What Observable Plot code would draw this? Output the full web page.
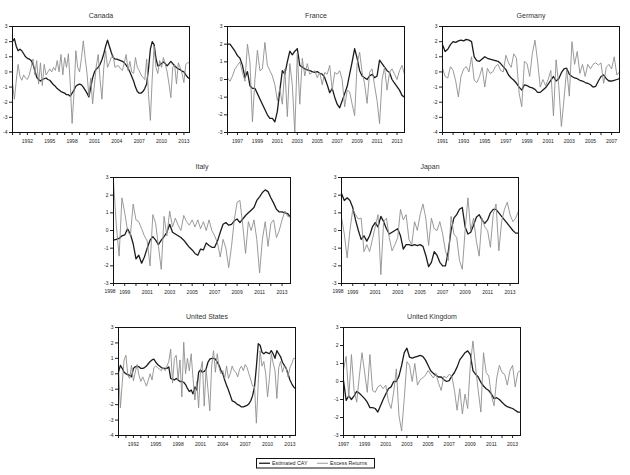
<!DOCTYPE html>
<html>
<head>
<meta charset="utf-8">
<script src="https://cdn.jsdelivr.net/npm/d3@7"></script>
<script src="https://cdn.jsdelivr.net/npm/@observablehq/plot@0.6"></script>
<style>
  body { margin: 0; background: #fff; }
  #chart { position: relative; width: 630px; height: 475px; background: #fff;
           font-family: "Liberation Sans", Arial, sans-serif; }
  #chart svg { position: absolute; overflow: visible; }
</style>
</head>
<body>
<div id="chart"></div>
<script>
// Series names (legend)
const seriesNames = ["Estimated CAY", "Excess Returns"];

// Quarterly observations, first quarter of each sample
const canadaStart = 1990;
const canadaCay = [2.0,2.2,1.7,1.4,1.5,1.4,1.2,1.0,0.9,0.85,
  0.75,0.5,0.1,-0.35,-0.5,-0.6,-0.5,-0.45,-0.4,-0.5,
  -0.55,-0.7,-0.85,-0.95,-1.1,-1.2,-1.3,-1.35,-1.4,-1.5,
  -1.5,-1.6,-1.4,-1.2,-0.95,-0.85,-0.8,-0.85,-1.0,-1.2,
  -1.4,-1.65,-1.0,-0.4,0.0,0.2,0.3,0.5,0.8,1.2,
  1.7,2.1,1.7,1.3,0.95,0.85,0.85,0.8,0.75,0.7,
  0.6,0.45,0.25,0.0,-0.3,-0.6,-1.0,-1.3,-1.4,-1.4,
  -1.3,-1.1,-0.8,0.2,1.5,2.0,1.8,0.9,0.4,0.45,
  0.55,0.65,0.55,0.4,0.55,0.7,0.55,0.4,0.3,0.2,
  0.15,0.05,0.0,-0.2,-0.35,-0.45];
const canadaRet = [-0.7,-1.8,-0.6,0.5,-0.3,-0.55,-0.2,-0.4,-0.5,-0.2,
  0.3,0.85,-0.2,0.75,-0.8,0.6,-0.9,0.5,-0.2,0.0,
  0.2,0.0,0.3,0.1,0.75,0.0,1.15,-0.2,0.95,0.3,
  1.2,-0.8,-3.4,-1.4,1.4,0.3,0.0,0.9,2.05,0.9,
  -0.1,-1.6,-0.4,-2.1,-0.8,0.4,1.15,-0.5,-1.8,0.3,
  1.4,0.3,0.6,0.95,1.1,0.3,0.4,0.4,0.2,0.1,
  0.6,1.15,0.1,0.7,0.0,-0.1,0.95,0.3,0.1,-0.2,
  -0.35,-0.5,0.85,-1.5,-3.2,-0.4,1.7,0.3,-0.1,0.75,
  0.3,0.95,0.5,0.0,-0.8,-1.7,0.3,0.5,-0.8,0.6,
  0.3,-0.1,-0.7,0.5,0.6,0.6];

const franceStart = 1996;
const franceCay = [2.0,2.0,1.8,1.6,1.35,1.2,0.8,0.1,0.45,-0.35,
  -0.5,-0.5,-0.8,-1.1,-1.4,-1.7,-2.0,-2.2,-2.2,-2.4,
  -1.8,-0.6,0.5,0.3,1.0,1.6,1.4,1.6,1.75,0.8,
  0.7,0.6,0.55,0.5,0.45,0.4,0.45,0.35,0.3,0.1,
  -0.3,-0.75,-0.5,-1.0,-1.4,-1.6,-1.2,-0.8,-0.4,0.3,
  1.0,1.75,1.2,0.5,0.2,0.1,0.0,0.2,0.3,0.1,
  0.2,1.1,0.9,0.7,0.5,0.4,0.0,-0.2,-0.4,-0.6,
  -0.9,-1.0];
const franceRet = [0.1,-0.1,0.2,0.6,0.8,1.0,0.4,-0.1,2.0,1.0,
  -2.4,0.0,1.65,0.5,0.6,2.1,0.8,0.5,0.2,-0.3,
  -1.2,-0.5,-1.4,0.6,-2.1,0.9,-0.3,-3.0,1.5,-1.4,
  1.2,0.2,0.9,0.3,0.4,0.5,0.1,0.4,-0.3,0.4,
  0.3,0.8,-0.6,0.4,0.3,0.5,0.0,
  -1.55,-0.6,-0.7,-1.4,-2.05,0.9,1.55,0.4,-0.25,-1.35,0.4,
  0.6,-0.35,-1.2,-2.5,0.0,0.7,-0.6,0.4,0.6,0.3,0.0,0.5,0.8,0.3];

const germanyStart = 1991;
const germanyCay = [1.8,1.35,1.5,1.8,2.0,1.95,2.05,2.1,2.05,2.15,
  2.1,2.0,1.0,0.75,0.7,0.85,1.0,0.9,0.85,0.8,
  0.75,0.7,0.55,0.35,0.15,-0.2,-0.4,-0.55,-0.75,-1.0,
  -1.2,-0.85,-0.9,-1.0,-1.05,-1.15,-1.35,-1.35,-1.2,-1.05,
  -0.8,-0.55,-0.3,-0.6,-0.45,-0.05,0.2,0.25,-0.15,-0.3,
  -0.4,-0.45,-0.55,-0.6,-0.7,-0.75,-0.85,-1.0,-0.95,-0.6,
  -0.3,-0.2,-0.45,-0.6,-0.6,-0.55,-0.5,-0.45];
const germanyRet = [0.25,-0.3,-0.4,0.35,0.1,-0.6,-1.65,-0.3,0.2,0.35,
  0.0,1.0,-0.55,-0.7,-0.3,0.3,-1.0,0.25,-0.1,0.0,
  0.35,0.5,0.1,0.0,1.1,0.6,0.3,1.2,0.9,-1.4,
  -2.3,0.7,0.55,-0.3,1.2,2.1,0.7,-1.0,-0.5,-0.9,
  -0.5,0.1,-2.9,0.8,-0.9,-3.6,-1.8,0.2,-1.6,2.0,
  0.5,1.35,-0.1,0.5,-0.3,0.5,0.2,0.5,0.6,0.45,
  0.6,-0.75,0.3,0.5,0.2,1.0,-0.2,0.0];

const italyStart = 1998;
const italyCay = [-0.55,-0.5,-0.45,-0.3,-0.25,0.1,-0.2,-0.75,-1.6,-1.4,
  -1.85,-1.5,-1.0,-0.55,-0.35,-0.55,-0.8,-0.55,-0.35,-0.1,
  0.35,-0.1,-0.2,-0.3,-0.4,-0.55,-0.75,-0.95,-1.1,-1.3,
  -1.4,-1.05,-1.1,-0.7,-0.85,-0.95,-0.95,-0.6,-0.1,0.35,
  0.45,0.3,0.35,0.55,0.65,0.45,0.65,0.85,1.0,1.15,
  1.3,1.7,1.9,2.15,2.3,2.2,1.85,1.55,1.2,1.05,
  1.05,1.0,0.95,0.75];
const italyRet = [2.8,0.3,-1.45,1.85,1.0,0.0,-0.3,1.5,0.6,0.5,
  0.1,-0.3,-0.6,-2.0,0.9,0.4,-0.9,-2.2,0.8,-0.3,
  1.1,0.2,0.7,0.3,0.0,0.85,0.5,0.3,0.6,0.2,
  0.6,0.1,0.5,0.0,0.6,0.0,-0.3,-0.7,-1.5,-0.5,
  -1.0,-2.1,-0.9,0.6,1.6,1.7,0.3,-1.3,0.5,0.0,
  0.6,-0.5,-2.4,-0.5,0.5,-0.9,0.4,0.6,-0.4,0.0,
  0.6,1.1,0.8,0.8];

const japanStart = 1998;
const japanCay = [2.1,1.7,1.85,1.7,1.3,0.6,0.0,-0.5,-0.3,-0.6,
  -0.3,0.2,0.45,0.2,0.8,0.5,0.1,-0.2,-0.1,0.0,
  0.1,-0.3,-1.05,-0.8,-0.8,-0.85,-0.8,-0.85,-0.8,-0.9,
  -1.4,-2.05,-1.8,-1.2,-1.4,-1.8,-2.0,-2.0,-1.2,0.0,
  0.7,0.9,1.2,1.3,0.2,-0.2,-0.1,0.3,0.75,0.9,
  0.6,0.4,0.6,1.0,1.2,1.2,1.0,0.8,0.6,0.4,
  0.2,0.0,-0.15,-0.15];
const japanRet = [0.75,-0.2,-1.55,0.0,1.2,0.9,0.65,0.7,-1.2,-0.8,
  -1.2,-0.5,0.2,0.9,-2.5,0.5,0.7,-0.4,-1.15,-0.8,
  -0.4,1.2,0.6,0.9,-0.5,-0.8,0.5,0.0,0.9,1.5,
  0.7,-0.85,0.7,0.1,0.0,0.5,-0.2,-1.15,-1.7,0.8,
  -0.2,-0.4,-1.7,-2.2,0.0,1.85,0.0,0.7,-0.6,-1.45,
  0.7,0.2,0.0,-0.95,0.9,1.5,-1.15,0.5,1.2,1.6,
  0.9,0.5,0.7,1.1];

const usStart = 1990;
const usCay = [0.1,0.55,0.35,0.1,0.0,-0.05,-0.1,-0.2,0.35,0.45,
  0.5,0.45,0.35,0.35,0.4,0.5,0.65,0.8,0.9,0.95,
  0.75,0.6,0.5,0.4,0.35,0.35,0.35,0.45,-0.3,-0.35,
  -0.4,-0.3,-0.4,-0.5,-0.5,-0.55,-0.7,-0.95,-1.15,-1.05,
  -1.3,-0.85,-1.05,0.1,0.25,0.1,0.15,0.3,0.75,0.95,
  1.0,1.0,0.95,0.75,0.55,0.2,0.0,-0.4,-0.75,-1.05,
  -1.4,-1.75,-1.8,-1.9,-2.0,-2.05,-2.15,-2.15,-2.1,-2.05,
  -1.95,-1.75,-1.4,-0.85,0.45,1.95,1.85,1.4,1.3,1.4,
  1.35,1.3,1.5,1.3,1.0,1.5,1.3,1.1,0.75,0.55,
  0.35,0.0,-0.4,-0.65,-0.85,-0.95];
const usRet = [0.44,-2.2,-0.6,0.9,1.2,-0.1,-0.3,0.55,-0.45,0.1,
  0.6,-0.1,-0.5,-0.2,-0.5,-0.8,-0.4,0.0,-0.4,0.4,
  0.5,0.4,0.3,0.2,0.4,0.2,0.5,0.8,1.6,-0.6,
  1.0,1.2,-0.4,0.9,-1.5,2.05,0.0,1.0,0.2,1.3,
  -0.3,-1.7,-0.5,-2.2,0.2,0.8,-2.1,0.3,-1.0,-2.4,
  0.5,1.5,0.1,1.3,0.4,0.0,0.2,-0.3,0.5,-0.3,
  0.0,0.5,0.2,0.1,-0.2,0.3,0.5,0.2,0.6,0.4,
  0.0,-0.4,-0.8,-0.8,-3.2,-0.6,1.5,0.5,0.8,0.0,
  -1.5,-0.3,1.3,0.7,0.2,-1.6,0.4,0.8,0.1,0.5,
  0.4,-0.2,0.4,0.65,1.0,1.0];

const ukStart = 1997;
const ukCay = [0.05,-1.05,-0.8,-1.0,-0.8,-0.55,-0.65,-0.8,-0.95,-1.15,
  -1.45,-1.45,-1.5,-1.7,-1.35,-1.0,-0.7,-0.4,-0.3,0.0,
  0.0,0.3,0.9,1.6,1.85,1.35,1.3,1.35,1.4,1.45,
  1.4,1.2,0.9,0.6,0.45,0.35,0.25,0.25,0.1,0.0,
  0.05,0.3,0.5,0.8,1.2,1.4,1.6,1.7,1.5,0.6,
  0.4,0.25,-0.05,-0.25,-0.4,-0.5,-0.7,-0.95,-0.9,-1.0,
  -1.15,-1.3,-1.4,-1.45,-1.5,-1.6,-1.7,-1.7];
const ukRet = [0.65,1.4,-0.9,1.5,-0.5,-1.15,0.3,1.6,0.5,-0.6,
  1.5,-0.5,-0.6,-0.3,-0.2,-0.4,-0.2,-1.1,-1.5,-0.6,
  0.7,-1.9,-2.75,-0.95,1.1,0.9,0.0,1.0,-0.2,0.1,
  0.2,0.35,0.6,0.4,0.2,0.45,-0.1,-0.5,0.3,0.2,
  0.4,0.3,-0.5,-1.6,-0.4,-1.8,-0.7,-1.5,0.9,2.25,
  0.8,-0.5,-1.7,1.6,0.5,0.3,-0.8,-1.35,0.2,0.9,
  0.5,0.4,-0.2,0.6,0.9,-0.3,0.5,0.6];

// Labelled years on each time axis
const everyThird = [1992,1995,1998,2001,2004,2007,2010,2013];
const franceLabels = [1997,1999,2001,2003,2005,2007,2009,2011,2013];
const germanyLabels = [1991,1993,1995,1997,1999,2001,2003,2005,2007];
const italyJapanLabels = [1999,2001,2003,2005,2007,2009,2011,2013];
const ukLabels = [1997,1999,2001,2003,2005,2007,2009,2011,2013];

// Panel layout: frame position on the page and y range
const panels = [
  {title: "Canada",         start: canadaStart,  cay: canadaCay,  ret: canadaRet,  labels: everyThird,       y: [-4, 3], left: 12,  top: 26,  h: 106},
  {title: "France",         start: franceStart,  cay: franceCay,  ret: franceRet,  labels: franceLabels,     y: [-3, 3], left: 227, top: 26,  h: 106},
  {title: "Germany",        start: germanyStart, cay: germanyCay, ret: germanyRet, labels: germanyLabels,    y: [-4, 3], left: 442, top: 26,  h: 106},
  {title: "Italy",          start: italyStart,   cay: italyCay,   ret: italyRet,   labels: italyJapanLabels, y: [-3, 3], left: 113, top: 177, h: 106, edgeLabel: true},
  {title: "Japan",          start: japanStart,   cay: japanCay,   ret: japanRet,   labels: italyJapanLabels, y: [-3, 3], left: 341, top: 177, h: 106, edgeLabel: true},
  {title: "United States",  start: usStart,      cay: usCay,      ret: usRet,      labels: everyThird,       y: [-4, 3], left: 118, top: 327, h: 108},
  {title: "United Kingdom", start: ukStart,      cay: ukCay,      ret: ukRet,      labels: ukLabels,         y: [-3, 3], left: 343, top: 327, h: 108}
];

const frameW = 177;
const mL = 16, mR = 6, mT = 20, mB = 16;
const font = "'Liberation Sans', Arial, sans-serif";
const chart = document.getElementById("chart");

for (const p of panels) {
  const toRows = (vals) => vals.map((v, i) => ({t: p.start + i / 4, v}));
  const cayRows = toRows(p.cay);
  const retRows = toRows(p.ret);
  const end = p.start + (p.cay.length - 1) / 4;
  const years = d3.range(p.start, Math.floor(end) + 1);

  const marks = [
    Plot.axisX({ticks: years, tickSize: 3, tickPadding: 3.5, label: null,
                tickFormat: d => p.labels.includes(d) ? String(d) : ""}),
    Plot.axisY({ticks: d3.range(p.y[0], p.y[1] + 1), tickSize: 3, tickPadding: 2, label: null,
                tickFormat: d => String(d)}),
    Plot.lineY(cayRows, {x: "t", y: "v", stroke: "#1c1c1c", strokeWidth: 1.3}),
    Plot.lineY(retRows, {x: "t", y: "v", stroke: "#8e8e8e", strokeWidth: 0.9}),
    Plot.frame({stroke: "#111", strokeWidth: 1}),
    Plot.text([p.title], {text: d => d, frameAnchor: "top", dy: -13, fontSize: 7, fill: "#333"})
  ];
  if (p.edgeLabel) {
    // first year sits at the corner, set to the left of the frame
    marks.push(Plot.text([p.start], {x: d => d, text: d => String(d), frameAnchor: "bottom",
      dy: 9, dx: 2, textAnchor: "end", fontSize: 5, fill: "#222"}));
  }

  const svg = Plot.plot({
    width: frameW + mL + mR,
    height: p.h + mT + mB,
    marginLeft: mL, marginRight: mR, marginTop: mT, marginBottom: mB,
    style: {fontFamily: font, fontSize: "5px", color: "#222", background: "transparent", overflow: "visible"},
    x: {domain: [p.start, end]},
    y: {domain: p.y},
    marks
  });
  svg.style.left = (p.left - mL) + "px";
  svg.style.top = (p.top - mT) + "px";
  chart.appendChild(svg);
}

// Legend box
const legend = d3.create("svg")
  .attr("width", 120).attr("height", 11)
  .style("left", "256px").style("top", "458px");
legend.append("rect").attr("x", 0.5).attr("y", 0.5).attr("width", 118).attr("height", 9.5)
  .attr("fill", "#fff").attr("stroke", "#111").attr("stroke-width", 1);
const items = [
  {name: seriesNames[0], color: "#1c1c1c", w: 1.3, x: 3},
  {name: seriesNames[1], color: "#8e8e8e", w: 0.9, x: 61}
];
for (const it of items) {
  legend.append("line").attr("x1", it.x).attr("x2", it.x + 11).attr("y1", 5.25).attr("y2", 5.25)
    .attr("stroke", it.color).attr("stroke-width", it.w);
  legend.append("text").attr("x", it.x + 13).attr("y", 5.25).attr("dy", "0.35em")
    .attr("font-family", font).attr("font-size", 5.3).attr("fill", "#222").text(it.name);
}
chart.appendChild(legend.node());
</script>
</body>
</html>
